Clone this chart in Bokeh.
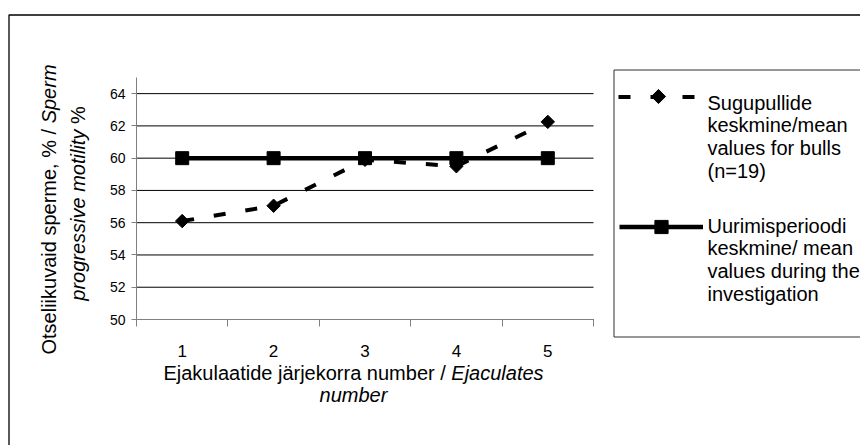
import math
from bokeh.plotting import figure
from bokeh.models import (Range1d, FixedTicker, Label, BoxAnnotation, Legend,
                          LegendItem, LinearAxis, Grid)
from bokeh.embed import file_html
from bokeh.resources import INLINE

# ---- data ----
categories = [1, 2, 3, 4, 5]
tick_labels = ["1", "2", "3", "4", "5"]
bulls_mean = [56.1, 57.05, 59.9, 59.5, 62.25]
period_mean = [60.0, 60.0, 60.0, 60.0, 60.0]
y_ticks = [50, 52, 54, 56, 58, 60, 62, 64]

legend1_lines = ["Sugupullide", "keskmine/mean", "values for bulls", "(n=19)"]
legend2_lines = ["Uurimisperioodi", "keskmine/ mean", "values during the", "investigation"]
xtitle_regular = "Ejakulaatide järjekorra number / "
xtitle_italic = "Ejaculates"
xtitle_line2 = "number"
ytitle1_regular = "Otseliikuvaid sperme, % / "
ytitle1_italic = "Sperm"
ytitle2_italic = "progressive motility"
ytitle2_regular = "%"

FONT = "Liberation Sans"

# ---- layout (canvas pixels) ----
W, H = 860, 445
FL, FR, FT, FB = 136, 593, 77, 319     # plot-area box
XA, XB = 0.5, 5.5
YA, YB = 50, 65
sx_ = (XB - XA) / (FR - FL)
sy_ = (YB - YA) / (FB - FT)

def X(px):
    return XA + (px - FL) * sx_

def Y(py):
    return YA + (FB - py) * sy_

AW = {' ': 278, '%': 889, '(': 333, ')': 333, ',': 278, '/': 278, '=': 584,
      'E': 667, 'O': 778, 'S': 667, 'U': 722}
for c in "0123456789":
    AW[c] = 556
for c in "abdeghnopqu":
    AW[c] = 556
for c in "cksvy":
    AW[c] = 500
for c in "ijl":
    AW[c] = 222
AW.update({'m': 833, 'r': 333, 't': 278, 'f': 278, 'ä': 556})

def tw(s, size):
    return sum(AW.get(c, 556) for c in s) / 1000.0 * size

p = figure(width=W, height=H,
           x_range=Range1d(X(0), X(W)), y_range=Range1d(Y(H), Y(0)),
           x_axis_location=None, y_axis_location=None,
           output_backend="svg", toolbar_location=None, min_border=0)
p.outline_line_color = None
p.background_fill_color = "white"
p.border_fill_color = "white"
for r in list(p.center):
    if isinstance(r, Grid):
        r.visible = False

# axes (fixed inside the canvas-wide frame)
xa = LinearAxis(fixed_location=YA, bounds=(XA, XB),
                ticker=FixedTicker(ticks=categories,
                                   minor_ticks=[c - 0.5 for c in categories] + [categories[-1] + 0.5]))
xa.major_label_overrides = {c: t for c, t in zip(categories, tick_labels)}
xa.major_tick_out = 0
xa.major_tick_in = 0
xa.minor_tick_out = 7
xa.minor_tick_in = 0
xa.axis_line_color = "#808080"
xa.minor_tick_line_color = "#808080"
xa.major_tick_line_color = None
xa.major_label_text_font = FONT
xa.major_label_text_font_size = "17px"
xa.major_label_text_color = "black"
xa.major_label_standoff = 18
p.add_layout(xa, "below")

ya = LinearAxis(fixed_location=XA, bounds=(YA, YB), ticker=FixedTicker(ticks=y_ticks))
ya.major_tick_out = 5
ya.major_tick_in = 0
ya.minor_tick_out = 0
ya.minor_tick_in = 0
ya.minor_tick_line_color = None
ya.axis_line_color = "#808080"
ya.major_tick_line_color = "#808080"
ya.major_label_text_font = FONT
ya.major_label_text_font_size = "14px"
ya.major_label_text_color = "black"
ya.major_label_standoff = 6
p.add_layout(ya, "left")

# horizontal gridlines across the plot area
p.segment(x0=[XA] * len(y_ticks), x1=[XB] * len(y_ticks), y0=y_ticks, y1=y_ticks,
          line_color="black", line_width=1)

# series
l1 = p.line(categories, bulls_mean, line_color="black", line_width=4, line_dash="12 20")
s1 = p.scatter(categories, bulls_mean, marker="square", angle=math.pi / 4, size=9.5,
               fill_color="black", line_color="black")
l2 = p.line(categories, period_mean, line_color="black", line_width=4.5)
s2 = p.scatter(categories, period_mean, marker="square", size=13,
               fill_color="black", line_color="black")

# legend samples
leg1 = Legend(items=[LegendItem(label=" ", renderers=[l1])],
              location=(618, H - (96 + 12.5)), padding=0, margin=0,
              glyph_width=80, glyph_height=25, label_height=20, label_width=1,
              label_standoff=0, label_text_font_size="1px",
              border_line_color=None, background_fill_alpha=0)
leg2 = Legend(items=[LegendItem(label=" ", renderers=[l2, s2])],
              location=(619, H - (226 + 16.5)), padding=0, margin=0,
              glyph_width=84, glyph_height=33, label_height=20, label_width=1,
              label_standoff=0, label_text_font_size="1px",
              border_line_color=None, background_fill_alpha=0)
p.add_layout(leg1)
p.add_layout(leg2)
# diamond key of the first legend entry (legend keys ignore marker rotation)
p.scatter([X(658)], [Y(96)], marker="square", angle=math.pi / 4, size=10,
          fill_color="black", line_color="black")

# borders
p.add_layout(BoxAnnotation(left=X(8.5), right=X(900), top=Y(14.5), bottom=Y(480),
                           fill_color=None, fill_alpha=0, line_color="black",
                           line_alpha=1.0, line_width=1.3))
p.add_layout(BoxAnnotation(left=X(613.5), right=X(900), top=Y(69.5), bottom=Y(336.5),
                           fill_color=None, fill_alpha=0, line_color="#303030",
                           line_alpha=1.0, line_width=1))

def lab(px, py, text, size="20px", style="normal", align="left", angle=0.0):
    p.add_layout(Label(x=X(px), y=Y(py), text=text, text_font=FONT,
                       text_font_size=size, text_font_style=style,
                       text_align=align, text_baseline="middle",
                       text_color="black", angle=angle))

# legend text
for i, t in enumerate(legend1_lines):
    lab(707, 102 + i * 22.7, t)
for i, t in enumerate(legend2_lines):
    lab(707, 225 + i * 22.7, t)

# x title
FS = 20
wx = tw(xtitle_regular, FS) + tw(xtitle_italic, FS)
sx = 353 - wx / 2
lab(sx, 372, xtitle_regular)
lab(sx + tw(xtitle_regular, FS), 372, xtitle_italic, style="italic")
lab(353, 394, xtitle_line2, style="italic", align="center")

# y title (rotated)
wy1 = tw(ytitle1_regular, FS) + tw(ytitle1_italic, FS)
sy1 = 209 + wy1 / 2
lab(48, sy1, ytitle1_regular, angle=math.pi / 2)
lab(48, sy1 - tw(ytitle1_regular, FS), ytitle1_italic, style="italic", angle=math.pi / 2)
wy2 = tw(ytitle2_italic + " ", FS) + tw(ytitle2_regular, FS)
sy2 = 203 + wy2 / 2
lab(77, sy2, ytitle2_italic, style="italic", angle=math.pi / 2)
lab(77, sy2 - tw(ytitle2_italic + " ", FS), ytitle2_regular, angle=math.pi / 2)

open("out.html", "w").write(file_html(p, INLINE))
